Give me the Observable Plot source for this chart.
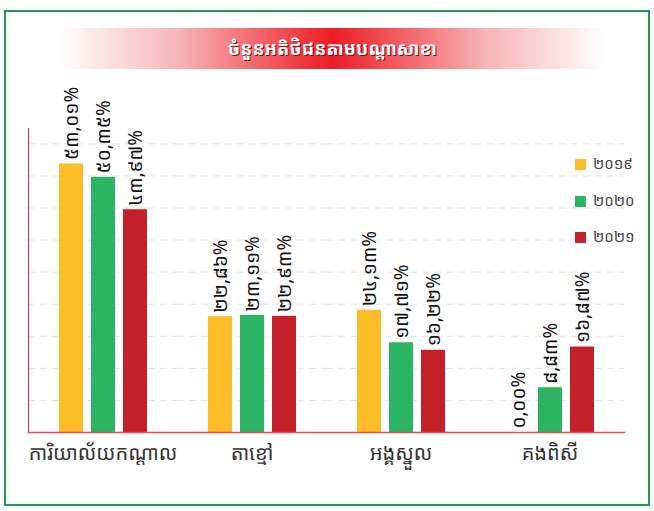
<!DOCTYPE html>
<html>
<head>
<meta charset="utf-8">
<script src="https://cdn.jsdelivr.net/npm/d3@7"></script>
<script src="https://cdn.jsdelivr.net/npm/@observablehq/plot@0.6"></script>
<style>
  html, body { margin: 0; padding: 0; background: #fff; }
  #wrap { position: relative; width: 654px; height: 511px; overflow: hidden; font-family: "Noto Sans Khmer", "Khmer OS", "Noto Sans", sans-serif; }
  #border { position: absolute; left: 4px; top: 10px; width: 646px; height: 496px; border: 2px solid #1f9a4c; box-sizing: border-box; }
  #title { position: absolute; left: 60px; top: 28px; width: 545px; height: 41px; line-height: 41px; text-align: center;
    background: linear-gradient(to right, rgba(255,255,255,0) 0%, #f7b3b5 22%, #ed1c24 50%, #f7b3b5 78%, rgba(255,255,255,0) 100%);
    color: #fff; font-size: 18px; font-weight: bold; text-shadow: 1px 1px 0 #8a0a10; }
  #chart { position: absolute; left: 0; top: 0; }
  #legend { position: absolute; left: 575px; top: 0; font-size: 15px; color: #444; }
  .item { position: absolute; left: 0; white-space: nowrap; height: 20px; line-height: 20px; }
  .sw { display: inline-block; width: 11px; height: 11px; margin-right: 7px; vertical-align: -1px; }
</style>
</head>
<body>
<div id="wrap">
  <div id="chart"></div>
  <div id="border"></div>
  <div id="title"></div>
  <div id="legend"></div>
</div>
<script>
const titleText = "ចំនួនអតិថិជនតាមបណ្តាសាខា";
const categories = ["ការិយាល័យកណ្តាល", "តាខ្មៅ", "អង្គស្នួល", "គងពិសី"];
const years = ["២០១៩", "២០២០", "២០២១"];
const v2019 = [53.01, 22.86, 24.13, 0.00];
const v2020 = [50.35, 23.11, 17.71, 8.83];
const v2021 = [43.97, 22.93, 16.22, 16.87];
const colors = ["#fdbd28", "#2bb462", "#c4202a"];
const gridTicks = [6.33, 12.66, 18.99, 25.32, 31.65, 37.98, 44.31, 50.64, 56.97];

const series = [v2019, v2020, v2021];
const data = categories.flatMap((c, i) => years.map((y, j) => ({cat: c, year: y, value: series[j][i]})));

const khmerDigits = "០១២៣៤៥៦៧៨៩";
function khmer(v) {
  return v.toFixed(2).replace(".", ",").replace(/[0-9]/g, d => khmerDigits[+d]) + "%";
}

document.getElementById("title").textContent = titleText;

const chart = Plot.plot({
  width: 654,
  height: 511,
  marginTop: 128,
  marginBottom: 79,
  marginLeft: 22,
  marginRight: 19,
  style: {fontFamily: '"Noto Sans Khmer", "Khmer OS", "Noto Sans", sans-serif', background: "transparent"},
  fx: {domain: categories, paddingInner: 0, paddingOuter: 0.047, align: 0.35, label: null},
  x: {domain: years, paddingInner: 0.26, paddingOuter: 0.94, axis: null},
  y: {domain: [0, 60], axis: null},
  color: {domain: years, range: colors},
  marks: [
    Plot.ruleY(gridTicks, {stroke: "#e2e2e2", strokeDasharray: "7,5", strokeWidth: 1}),
    Plot.barY(data, {fx: "cat", x: "year", y: "value", fill: "year"}),
    Plot.text(data, {fx: "cat", x: "year", y: "value", text: d => khmer(d.value), rotate: -90, textAnchor: "start", dy: -4, fontSize: 19, fill: "#111"}),
    Plot.frame({anchor: "left", stroke: "#e0282e", facet: "super"}),
    Plot.frame({anchor: "bottom", stroke: "#e8474c", strokeWidth: 1.5, facet: "super"}),
    Plot.axisFx({anchor: "bottom", tickSize: 0, tickPadding: 13, fontSize: 20, fill: "#333", label: null})
  ]
});
document.getElementById("chart").appendChild(chart);

const legend = document.getElementById("legend");
const legendTops = [153, 190, 226];
years.forEach((y, i) => {
  const item = document.createElement("div");
  item.className = "item";
  item.style.top = legendTops[i] + "px";
  item.innerHTML = `<span class="sw" style="background:${colors[i]}"></span>${y}`;
  legend.appendChild(item);
});
</script>
</body>
</html>
